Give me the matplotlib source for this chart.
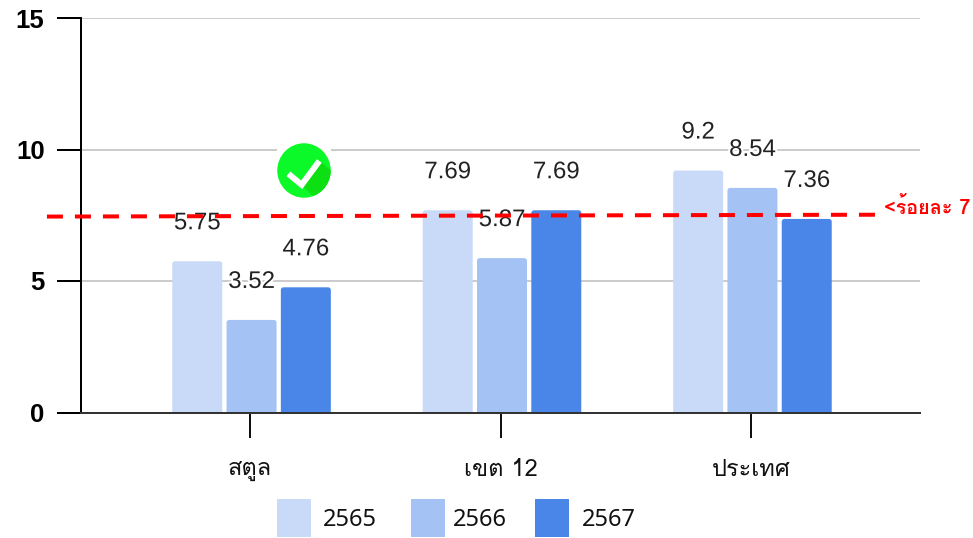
import matplotlib
matplotlib.use('Agg')
import matplotlib.pyplot as plt
import matplotlib.patheffects as pe
from matplotlib.patches import Circle, FancyBboxPatch, Polygon, Rectangle

W, H = 973, 538

categories = ['สตูล', 'เขต 12', 'ประเทศ']
years = ['2565', '2566', '2567']
values_2565 = [5.75, 7.69, 9.2]
values_2566 = [3.52, 5.87, 8.54]
values_2567 = [4.76, 7.69, 7.36]
series = [values_2565, values_2566, values_2567]
colors = ['#C9DAF8', '#A4C2F4', '#4A86E8']
y_ticks = [0, 5, 10, 15]

# hand drawn target line, it runs slightly uphill
target_x = [-0.811, 2.503]
target_y = [7.45, 7.52]
target_label = '<ร้อยละ 7'

px = 72 / 100  # points per pixel at dpi 100

fig = plt.figure(figsize=(W / 100, H / 100), dpi=100)
ax = fig.add_axes([81 / W, 1 - 412.5 / H, 839 / W, 394.5 / H])
ax.set_xlim(-0.675, 2.675)
ax.set_ylim(0, 15)

ax.grid(axis='y', color='#CCCCCC', linewidth=2 * px, zorder=1)
ax.set_axisbelow(True)

# bars with small rounded corners, foot pushed below the axis so it gets clipped
bar_w = 50 / 250.5
step = 54.3 / 250.5
nudge = 1.5 / 250.5
for i, vals in enumerate(series):
    for j, v in enumerate(vals):
        x = j + (i - 1) * step - bar_w / 2 + nudge
        box = FancyBboxPatch((x, -0.3), bar_w, v + 0.3,
                             boxstyle='round,pad=0,rounding_size=0.011',
                             mutation_aspect=9.5, fc=colors[i], ec='none', zorder=2)
        ax.add_patch(box)
        ax.annotate(str(v), (x + bar_w / 2, v), xytext=(0, 38 * px),
                    textcoords='offset points', ha='center', va='center',
                    family='Liberation Sans', fontsize=17.3, color='#222222', zorder=3,
                    path_effects=[pe.withStroke(linewidth=3, foreground='white')])

ax.plot(target_x, target_y, color='#FF0000', linewidth=4 * px, dashes=(4, 3),
        clip_on=False, zorder=4)
fig.text(884 / W, 1 - 207 / H, target_label, family='Loma', fontweight='bold',
         fontsize=14.3, color='#FF0000', va='center', ha='left')

ax.set_xticks(range(len(categories)))
ax.set_xticklabels(categories, family='Loma', fontsize=17, color='#111111')
ax.set_yticks(y_ticks)
ax.set_yticklabels(y_ticks, family='Liberation Sans', fontweight='bold', fontsize=18.5)
ax.tick_params(axis='x', length=25 * px, width=2 * px, color='#111111', pad=15)
ax.tick_params(axis='y', length=24 * px, width=2 * px, color='black', pad=9)

for side in ['top', 'right']:
    ax.spines[side].set_visible(False)
ax.spines['left'].set_linewidth(2 * px)
ax.spines['left'].set_color('black')
ax.spines['bottom'].set_linewidth(2 * px)
ax.spines['bottom'].set_color('#333333')

# check mark badge
badge = fig.add_axes([277 / W, 1 - 198 / H, 54 / W, 55 / H], zorder=5)
badge.set_xlim(0, 1)
badge.set_ylim(0, 1)
badge.axis('off')
badge.add_patch(Rectangle((0, 0), 1, 1, fc='white', ec='none'))
disc = Circle((0.5, 0.5), 0.495, fc='#0BF928', ec='none')
badge.add_patch(disc)
shade = Polygon([(0.457, 0.24), (0.784, 0.673), (1, 0.5), (1, 0), (0.7, 0)],
                fc='#0CE012', ec='none')
badge.add_patch(shade)
shade.set_clip_path(disc)
badge.plot([0.21, 0.457, 0.784], [0.44, 0.24, 0.673], color='white', linewidth=6 * px,
           solid_joinstyle='miter', solid_capstyle='butt')

# legend entries sit at uneven spacing
swatch_left = [277, 411, 535]
text_left = [323, 453, 582]
for left, tx, year, c in zip(swatch_left, text_left, years, colors):
    fig.add_artist(Rectangle((left / W, 1 - 537 / H), 34 / W, 38 / H, fc=c, ec='none',
                             transform=fig.transFigure))
    fig.text(tx / W, 1 - 520 / H, year, family='Noto Sans', fontsize=17,
             color='#111111', va='center', ha='left')

fig.savefig('out.png', dpi=100)
